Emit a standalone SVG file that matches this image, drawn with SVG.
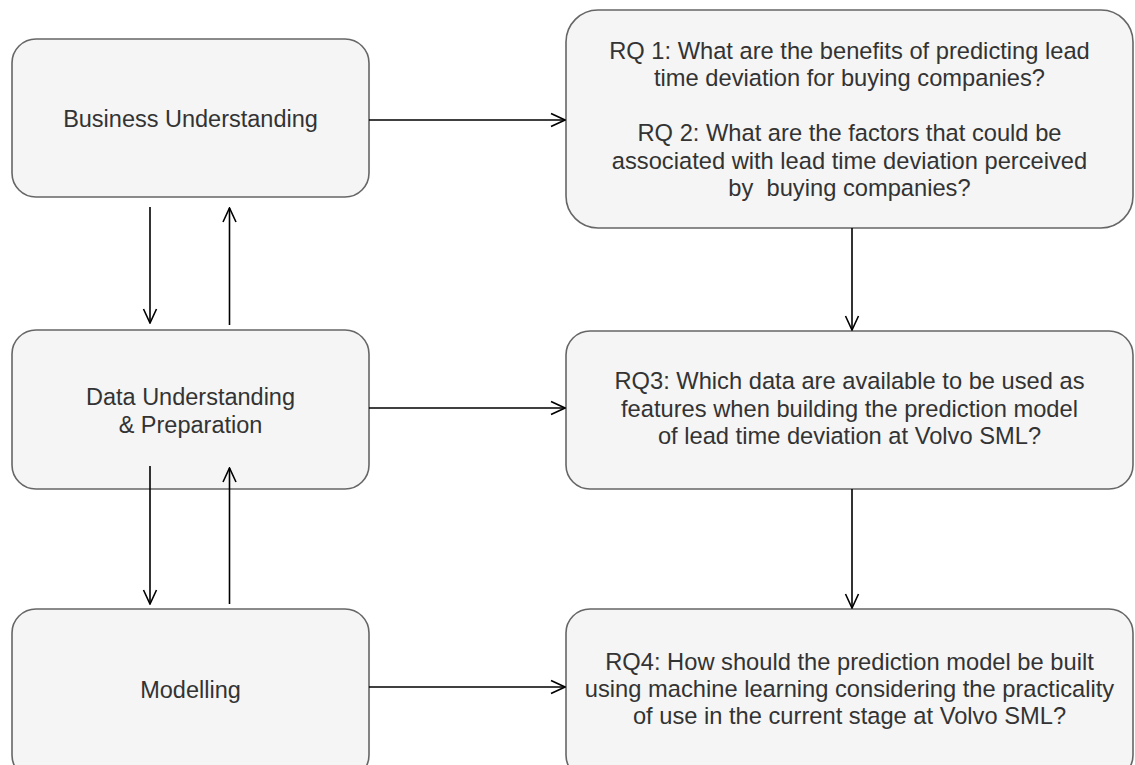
<svg xmlns="http://www.w3.org/2000/svg" width="1135" height="765" viewBox="0 0 1135 765">
  <defs>
    <marker id="open-arrow" viewBox="0 0 16 16" refX="15" refY="8" markerWidth="16" markerHeight="16" markerUnits="userSpaceOnUse" orient="auto">
      <path d="M1,1.5 L15,8 L1,14.5" fill="none" stroke="#000" stroke-width="1.6"/>
    </marker>
    <style>
      .box { fill: #f5f5f5; stroke: #666666; stroke-width: 1.6; }
      .label { font-family: "Liberation Sans", Arial, sans-serif; font-size: 23.5px; fill: #333333; text-anchor: middle; }
      .rq { font-size: 23.7px; }
      .edge { fill: none; stroke: #000000; stroke-width: 1.6; marker-end: url(#open-arrow); }
    </style>
  </defs>
  <rect width="1135" height="765" fill="#ffffff"/>

  <!-- process phases (left column) -->
  <g id="business-understanding">
    <rect class="box" x="12" y="39" width="357" height="158" rx="24" ry="24"/>
    <text class="label" x="190.5" y="127">Business Understanding</text>
  </g>
  <g id="data-understanding">
    <rect class="box" x="12" y="330" width="357" height="159" rx="24" ry="24"/>
    <text class="label" x="190.5" y="405">Data Understanding</text>
    <text class="label" x="190.5" y="432.5">&amp; Preparation</text>
  </g>
  <g id="modelling">
    <rect class="box" x="12" y="609" width="357" height="170" rx="24" ry="24"/>
    <text class="label" x="190.5" y="698">Modelling</text>
  </g>

  <!-- research questions (right column) -->
  <g id="rq1-rq2">
    <rect class="box" x="566" y="10" width="567" height="218" rx="32" ry="32"/>
    <text class="label rq" x="849.5" y="58.5">RQ 1: What are the benefits of predicting lead</text>
    <text class="label rq" x="849.5" y="86">time deviation for buying companies?</text>
    <text class="label rq" x="849.5" y="141">RQ 2: What are the factors that could be</text>
    <text class="label rq" x="849.5" y="168.5">associated with lead time deviation perceived</text>
    <text class="label rq" x="849.5" y="196" xml:space="preserve">by  buying companies?</text>
  </g>
  <g id="rq3">
    <rect class="box" x="566" y="331" width="567" height="158" rx="24" ry="24"/>
    <text class="label rq" x="849.5" y="389">RQ3: Which data are available to be used as</text>
    <text class="label rq" x="849.5" y="416.5">features when building the prediction model</text>
    <text class="label rq" x="849.5" y="444">of lead time deviation at Volvo SML?</text>
  </g>
  <g id="rq4">
    <rect class="box" x="566" y="609" width="567" height="170" rx="24" ry="24"/>
    <text class="label rq" x="849.5" y="670">RQ4: How should the prediction model be built</text>
    <text class="label rq" x="849.5" y="697">using machine learning considering the practicality</text>
    <text class="label rq" x="849.5" y="724">of use in the current stage at Volvo SML?</text>
  </g>

  <!-- connectors -->
  <g id="connectors">
    <line class="edge" x1="369" y1="120" x2="565" y2="120"/>
    <line class="edge" x1="369" y1="408" x2="565" y2="408"/>
    <line class="edge" x1="369" y1="687" x2="565" y2="687"/>
    <line class="edge" x1="852" y1="228" x2="852" y2="330"/>
    <line class="edge" x1="852" y1="489" x2="852" y2="608"/>
    <line class="edge" x1="150" y1="207" x2="150" y2="323"/>
    <line class="edge" x1="229.5" y1="325" x2="229.5" y2="208"/>
    <line class="edge" x1="150" y1="466" x2="150" y2="604"/>
    <line class="edge" x1="229.5" y1="604" x2="229.5" y2="468"/>
  </g>
</svg>
